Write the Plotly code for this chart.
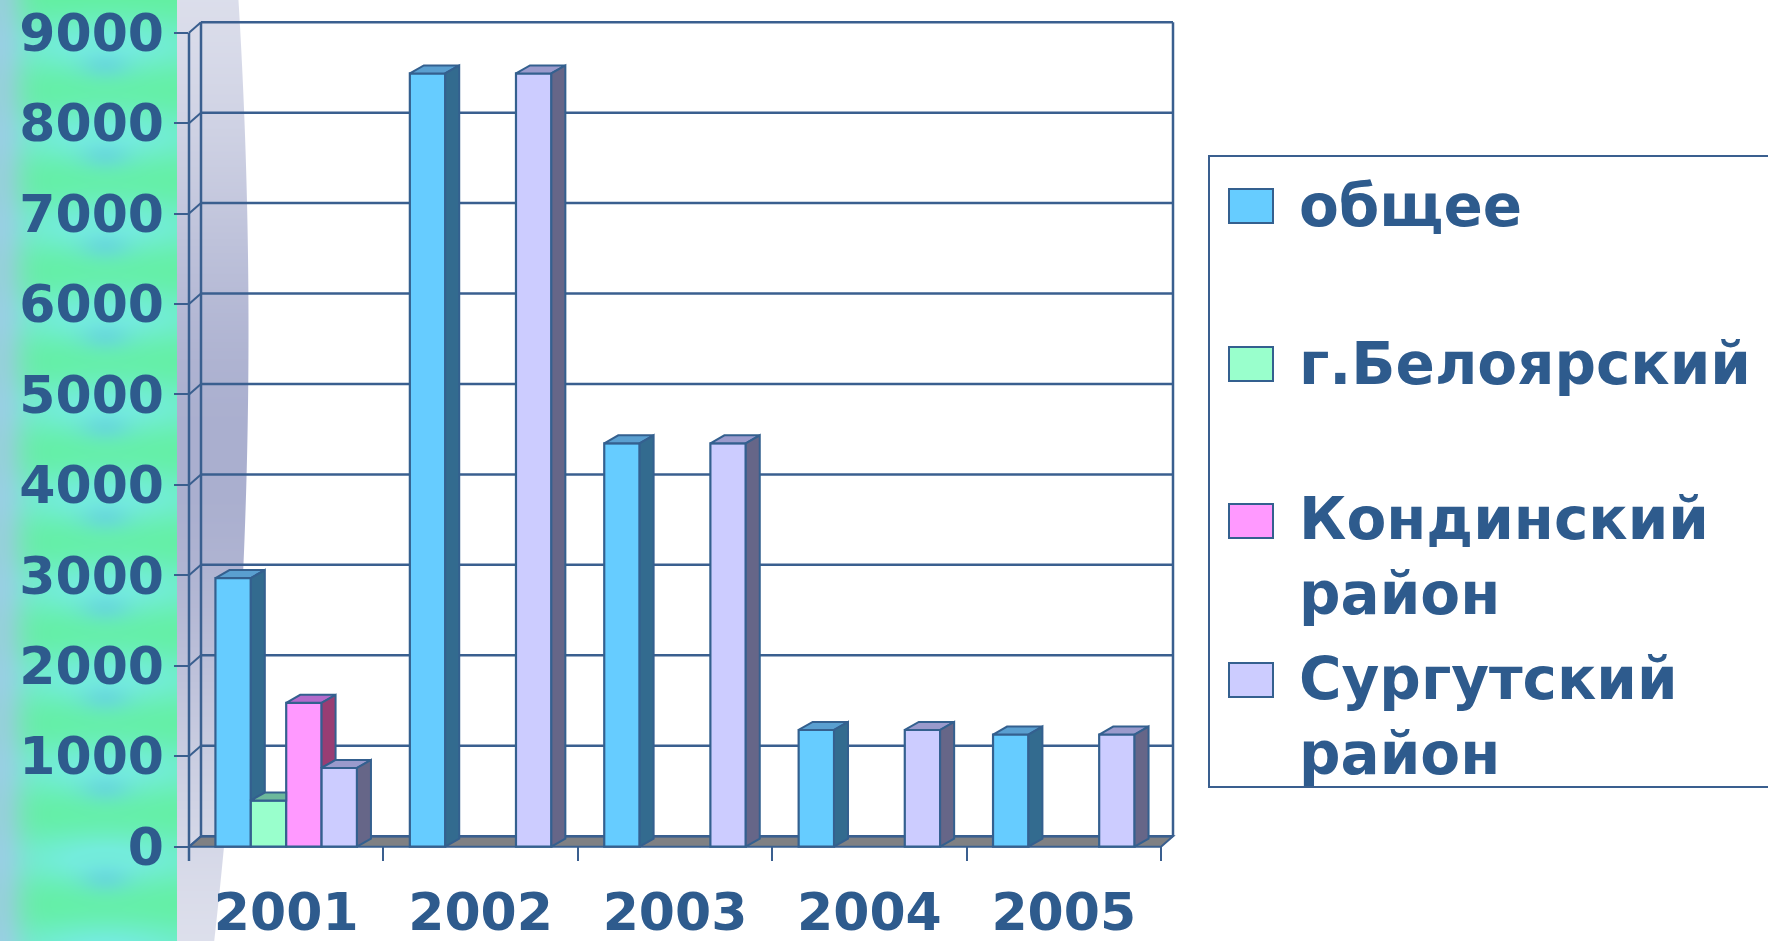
import base64
import struct
import zlib

import numpy as np
import plotly.graph_objects as go

# ---- data -------------------------------------------------------------
years = ["2001", "2002", "2003", "2004", "2005"]
series_names = ["общее", "г.Белоярский", "Кондинский район", "Сургутский район"]
obshchee = [2970, 8550, 4460, 1290, 1240]
beloyarsky = [510, None, None, None, None]
kondinsky = [1590, None, None, None, None]
surgut = [870, 8550, 4460, 1290, 1240]
y_ticks = [0, 1000, 2000, 3000, 4000, 5000, 6000, 7000, 8000, 9000]

series_values = [obshchee, beloyarsky, kondinsky, surgut]

# ---- styling ----------------------------------------------------------
front_colors = ["#66CCFF", "#99FFCC", "#FF99FF", "#CCCCFF"]
side_colors = ["#336B8F", "#4F8A73", "#993D73", "#666688"]
top_colors = ["#5A9FD0", "#6CB89C", "#B36ACB", "#9A9ACC"]
EDGE = "#34608F"
TEXT = "#2E5B8D"
GRID = "#3A5F8F"
FONT = "DejaVu Sans"

W_PX, H_PX = 1768, 941
M_L, M_R, M_T, M_B = 174, 584, 10, 80
PLOT_W = W_PX - M_L - M_R
PLOT_H = H_PX - M_T - M_B

px_per_cat = 194.4
px_per_unit = 0.09044
x_lo = -0.5 - (189 - M_L) / px_per_cat
x_hi = x_lo + PLOT_W / px_per_cat
y_hi = 9000 + (32.7 - M_T) / px_per_unit
y_lo = y_hi - PLOT_H / px_per_unit

# 3D offsets: back wall depth and bar depth (in axis units)
wall_dx = 12.0 / px_per_cat
wall_dy = 10.5 / px_per_unit
bar_dx = 14.0 / px_per_cat
bar_dy = 8.0 / px_per_unit

group_w = 0.728
bar_w = group_w / len(series_values)


def px_to_paper_x(px):
    return (px - M_L) / PLOT_W


def px_to_paper_y(py):
    return (H_PX - M_B - py) / PLOT_H


# ---- background texture (left strip and shaded curve) -----------------
def make_png(arr):
    h, w, _ = arr.shape
    raw = b"".join(b"\x00" + arr[i].tobytes() for i in range(h))

    def chunk(tag, data):
        return (struct.pack(">I", len(data)) + tag + data
                + struct.pack(">I", zlib.crc32(tag + data) & 0xFFFFFFFF))

    return (b"\x89PNG\r\n\x1a\n"
            + chunk(b"IHDR", struct.pack(">IIBBBBB", w, h, 8, 2, 0, 0, 0))
            + chunk(b"IDAT", zlib.compress(raw, 9))
            + chunk(b"IEND", b""))


BG_W = 260
yy, xx = np.mgrid[0:H_PX, 0:BG_W].astype(float)

green = np.array([98, 240, 158], float)
cyan = np.array([118, 236, 226], float)
blue = np.array([96, 198, 232], float)
lav = np.array([170, 196, 240], float)

img = np.ones((H_PX, BG_W, 3)) * 255.0

cw = np.zeros_like(xx)
bw = np.zeros_like(xx)
for k in range(11):
    yc = 45 + 90.4 * k
    cw += np.exp(-((yy - yc) / 30.0) ** 2) * (0.45 + 0.55 * np.exp(-((xx - 105) / 75.0) ** 2))
    bw += np.exp(-((yy - (yc + 20)) / 14.0) ** 2) * np.exp(-((xx - 105) / 25.0) ** 2)
cw = np.clip(cw, 0, 0.9)[..., None]
bw = np.clip(bw * 0.45, 0, 0.45)[..., None]
lw = (np.exp(-(xx / 24.0) ** 2) * 0.7)[..., None]
strip = green * (1 - cw) + cyan * cw
strip = strip * (1 - bw) + blue * bw
strip = strip * (1 - lw) + lav * lw

strip_edge = 177
curve_r = 248 - 9.2e-5 * (yy - 330) ** 2
g = np.exp(-((yy - 460) / 330.0) ** 2)[..., None]
light = np.array([228, 230, 240], float)
dark = np.array([170, 175, 207], float)
curve = light * (1 - g) + dark * g
cov = np.clip(curve_r - xx + 0.5, 0, 1)[..., None]
img = img * (1 - cov) + curve * cov
in_strip = (xx < strip_edge)[..., None]
img = np.where(in_strip, strip, img)
img = np.clip(img, 0, 255).astype(np.uint8)

bg_src = "data:image/png;base64," + base64.b64encode(make_png(img)).decode()

# ---- figure -------------------------------------------------------------
fig = go.Figure()

x_idx = list(range(len(years)))

# front faces of the columns
for j, (name, vals) in enumerate(zip(series_names, series_values)):
    fig.add_trace(go.Bar(
        x=x_idx, y=vals, name=name,
        width=bar_w, offset=-group_w / 2 + j * bar_w,
        marker=dict(color=front_colors[j], line=dict(color=EDGE, width=2.2)),
        showlegend=False, hoverinfo="skip",
    ))


def face(xs, ys, color):
    fig.add_trace(go.Scatter(
        x=xs, y=ys, mode="lines", fill="toself", fillcolor=color,
        line=dict(color=EDGE, width=2), hoverinfo="skip", showlegend=False,
    ))


# top and side faces, hidden where the right-hand neighbour stands in front
for i in x_idx:
    for j, vals in enumerate(series_values):
        h = vals[i]
        if not h:
            continue
        xl = i - group_w / 2 + j * bar_w
        xr = xl + bar_w
        nxt = series_values[j + 1][i] if j + 1 < len(series_values) else None
        h2 = nxt or 0
        if h2 > h:
            face([xl, xr, xr, xl + bar_dx, xl],
                 [h, h, h + bar_dy, h + bar_dy, h], top_colors[j])
        else:
            face([xl, xr, xr + bar_dx, xl + bar_dx, xl],
                 [h, h, h + bar_dy, h + bar_dy, h], top_colors[j])
            face([xr, xr, xr + bar_dx, xr + bar_dx, xr],
                 [h2, h, h + bar_dy, h2 + bar_dy, h2], side_colors[j])

shapes = []
left_f, right_f = -0.5, len(years) - 0.5
left_b, right_b = left_f + wall_dx, right_f + wall_dx

# floor
shapes.append(dict(
    type="path", xref="x", yref="y", layer="below",
    path=(f"M {left_f},0 L {right_f},0 L {right_b},{wall_dy} "
          f"L {left_b},{wall_dy} Z"),
    fillcolor="#7F8083", line=dict(color=GRID, width=2),
))
# back wall grid lines and connectors to the front axis
for v in y_ticks:
    shapes.append(dict(type="line", xref="x", yref="y", layer="below",
                       x0=left_b, x1=right_b, y0=v + wall_dy, y1=v + wall_dy,
                       line=dict(color=GRID, width=2.5)))
    shapes.append(dict(type="line", xref="x", yref="y", layer="below",
                       x0=left_f, x1=left_b, y0=v, y1=v + wall_dy,
                       line=dict(color=GRID, width=2)))
for xb in (left_b, right_b):
    shapes.append(dict(type="line", xref="x", yref="y", layer="below",
                       x0=xb, x1=xb, y0=wall_dy, y1=y_ticks[-1] + wall_dy,
                       line=dict(color=GRID, width=2.5)))
# front value axis
shapes.append(dict(type="line", xref="x", yref="y", layer="below",
                   x0=left_f, x1=left_f, y0=y_lo, y1=y_ticks[-1],
                   line=dict(color=GRID, width=2.5)))

# legend box with swatches
leg_x0, leg_y0, leg_y1 = 1209, 156, 787
shapes.append(dict(type="rect", xref="paper", yref="paper", layer="above",
                   x0=px_to_paper_x(leg_x0), x1=px_to_paper_x(1800),
                   y0=px_to_paper_y(leg_y1), y1=px_to_paper_y(leg_y0),
                   fillcolor="rgba(255,255,255,0)", line=dict(color=GRID, width=2)))

legend_rows = [206, 364, 521, 680]
annotations = []
for j, name in enumerate(series_names):
    yc = legend_rows[j]
    shapes.append(dict(type="rect", xref="paper", yref="paper", layer="above",
                       x0=px_to_paper_x(1229), x1=px_to_paper_x(1273),
                       y0=px_to_paper_y(yc + 17), y1=px_to_paper_y(yc - 17),
                       fillcolor=front_colors[j], line=dict(color=EDGE, width=2)))
    words = name.split(" ")
    if len(words) > 1:
        text = "<br>".join(words)
        ymid = yc + 36
    else:
        text = name
        ymid = yc
    annotations.append(dict(
        xref="paper", yref="paper", x=px_to_paper_x(1297), y=px_to_paper_y(ymid),
        xanchor="left", yanchor="middle", align="left", showarrow=False,
        text=text, font=dict(family=FONT, size=58, color=TEXT, weight="bold"),
    ))

fig.update_layout(
    width=W_PX, height=H_PX,
    margin=dict(l=M_L, r=M_R, t=M_T, b=M_B, autoexpand=False),
    paper_bgcolor="white", plot_bgcolor="rgba(0,0,0,0)",
    barmode="overlay", showlegend=False,
    shapes=shapes, annotations=annotations,
    images=[dict(source=bg_src, xref="paper", yref="paper",
                 x=px_to_paper_x(0), y=px_to_paper_y(0),
                 sizex=BG_W / PLOT_W, sizey=H_PX / PLOT_H,
                 xanchor="left", yanchor="top", sizing="stretch", layer="below")],
    xaxis=dict(range=[x_lo, x_hi], tickvals=x_idx, ticktext=years,
               ticks="", showgrid=False, zeroline=False, showline=False,
               ticklabelstandoff=16,
               tickfont=dict(family=FONT, size=52, color=TEXT, weight="bold"),
               minor=dict(tickmode="array", tickvals=[v - 0.5 for v in range(len(years) + 1)],
                          ticks="inside", ticklen=14, tickwidth=2, tickcolor=GRID,
                          showgrid=False)),
    yaxis=dict(range=[y_lo, y_hi], tickvals=y_ticks,
               ticks="inside", ticklen=14, tickwidth=2, tickcolor=GRID,
               showgrid=False, zeroline=False, showline=False,
               ticklabelstandoff=9,
               tickfont=dict(family=FONT, size=52, color=TEXT, weight="bold")),
)

fig.write_html("out.html")
